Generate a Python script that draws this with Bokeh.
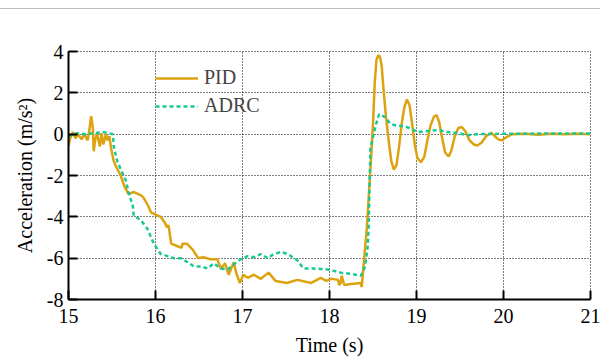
from bokeh.plotting import figure
from bokeh.models import Legend, LegendItem, FixedTicker, Range1d
from bokeh.embed import file_html
from bokeh.resources import INLINE

# ---- data ----
pid_t = [15.00, 15.02, 15.05, 15.08, 15.11, 15.15, 15.18, 15.22, 15.24, 15.26, 15.28, 15.29,
         15.31, 15.33, 15.36, 15.38, 15.40, 15.43, 15.45, 15.47, 15.49, 15.52, 15.55, 15.60,
         15.64, 15.69, 15.75, 15.83, 15.86, 15.92, 15.95, 16.06, 16.11, 16.13, 16.15, 16.18,
         16.24, 16.30, 16.31, 16.36, 16.43, 16.49, 16.55, 16.63, 16.71, 16.75, 16.80, 16.84,
         16.90, 16.93, 16.97, 17.01, 17.06, 17.13, 17.21, 17.30, 17.38, 17.51, 17.63, 17.79,
         17.90, 17.96, 18.02, 18.10, 18.11, 18.13, 18.14, 18.17, 18.25, 18.36, 18.37, 18.43,
         18.48, 18.50, 18.52, 18.54, 18.56, 18.58, 18.60, 18.62, 18.65, 18.68, 18.71, 18.74,
         18.77, 18.80, 18.83, 18.86, 18.89, 18.92, 18.95, 18.98, 19.01, 19.05, 19.09, 19.12,
         19.16, 19.20, 19.23, 19.26, 19.30, 19.33, 19.37, 19.40, 19.44, 19.48, 19.52, 19.56,
         19.61, 19.66, 19.70, 19.75, 19.80, 19.86, 19.90, 19.94, 19.98, 20.03, 20.10, 20.25,
         20.40, 20.55, 20.70, 20.85, 21.00]
pid_a = [-0.55, -0.2, 0.1, -0.2, 0.0, -0.25, 0.0, -0.3, 0.2, 0.87, 0.3, -0.83,
         -0.2, 0.0, -0.6, 0.05, -0.5, 0.0, -0.3, -0.1, -0.7, -1.3, -1.6, -2.0,
         -2.5, -2.9, -2.8, -2.95, -3.06, -3.5, -3.8, -4.0, -4.3, -4.5, -4.4, -5.3,
         -5.4, -5.5, -5.3, -5.3, -5.6, -6.0, -5.95, -6.05, -6.05, -6.5, -6.25, -6.8,
         -6.2, -6.75, -7.2, -6.8, -6.95, -6.8, -7.0, -6.7, -7.1, -7.2, -7.05, -7.2,
         -6.95, -7.1, -7.0, -7.05, -7.3, -7.2, -6.85, -7.3, -7.25, -7.2, -7.4, -4.5,
         -1.0, 0.5, 2.5, 3.6, 3.82, 3.75, 3.3, 2.2, 0.8, -0.3, -1.3, -1.72,
         -1.5, -0.6, 0.5, 1.3, 1.68, 1.4, 0.5, -0.5, -1.15, -1.36, -1.1, -0.4,
         0.4, 0.85, 0.92, 0.6, -0.3, -0.9, -1.08, -0.8, -0.1, 0.3, 0.35, 0.15,
         -0.3, -0.5, -0.55, -0.4, -0.1, 0.07, -0.1, -0.25, -0.3, -0.15, 0.0, 0.02,
         -0.03, 0.02, 0.0, 0.02, 0.0]

adrc_t = [15.00, 15.10, 15.20, 15.30, 15.40, 15.51, 15.52, 15.56, 15.60, 15.66, 15.69, 15.74,
          15.75, 15.83, 15.91, 15.98, 16.06, 16.14, 16.21, 16.29, 16.37, 16.44, 16.52, 16.60,
          16.67, 16.75, 16.83, 16.90, 16.98, 17.06, 17.13, 17.21, 17.29, 17.36, 17.44, 17.52,
          17.59, 17.63, 17.70, 17.82, 17.98, 18.13, 18.24, 18.36, 18.41, 18.44, 18.45, 18.46,
          18.47, 18.53, 18.57, 18.64, 18.70, 18.78, 18.86, 18.94, 19.02, 19.13, 19.25, 19.36,
          19.48, 19.59, 19.70, 20.00, 20.50, 21.00]
adrc_a = [-0.1, 0.05, 0.0, 0.05, 0.1, 0.0, -0.6, -1.3, -1.7, -2.25, -2.8, -3.5,
          -3.95, -4.15, -4.6, -5.3, -5.8, -5.9, -6.0, -6.0, -6.2, -6.4, -6.4, -6.5,
          -6.25, -6.5, -6.55, -6.3, -6.05, -5.9, -5.95, -5.8, -6.0, -5.8, -5.7, -5.8,
          -6.0, -6.1, -6.5, -6.5, -6.55, -6.7, -6.75, -6.85, -6.4, -5.4, -4.5, -2.5,
          -0.7, 0.4, 0.97, 0.82, 0.5, 0.4, 0.4, 0.25, 0.1, 0.15, 0.2, 0.1,
          0.05, -0.05, 0.0, 0.02, 0.03, 0.03]

x_ticks = [15, 16, 17, 18, 19, 20, 21]
x_tick_labels = ["15", "16", "17", "18", "19", "20", "21"]
y_ticks = [-8, -6, -4, -2, 0, 2, 4]
y_tick_labels = ["-8", "-6", "-4", "-2", "0", "2", "4"]

FONT = "Liberation Serif"
PID_COLOR = "#DCA30E"
ADRC_COLOR = "#18C994"

p = figure(width=600, height=349, output_backend="svg", toolbar_location=None,
           x_range=Range1d(15, 21), y_range=Range1d(-8, 4),
           min_border_left=68, min_border_right=10, min_border_top=42, min_border_bottom=54)
p.styles = {"margin-top": "8px", "border-top": "1px solid #bcbcbc"}

p.background_fill_color = "white"
p.border_fill_color = "white"
p.outline_line_color = "black"
p.outline_line_dash = "1 2"
p.outline_line_width = 1

for ax in (p.xaxis[0], p.yaxis[0]):
    ax.axis_line_width = 2
    ax.axis_line_color = "black"
    ax.major_tick_in = 9
    ax.major_tick_out = 0
    ax.major_tick_line_width = 2
    ax.minor_tick_line_color = None
    ax.major_label_text_font = FONT
    ax.major_label_text_font_size = "20px"
    ax.major_label_text_color = "black"
    ax.axis_label_text_font = FONT
    ax.axis_label_text_font_size = "20px"
    ax.axis_label_text_font_style = "normal"
    ax.axis_label_text_color = "black"

p.xaxis.ticker = FixedTicker(ticks=x_ticks)
p.yaxis.ticker = FixedTicker(ticks=y_ticks)
p.xaxis.major_label_overrides = dict(zip(x_ticks, x_tick_labels))
p.yaxis.major_label_overrides = dict(zip(y_ticks, y_tick_labels))
p.xaxis.major_label_standoff = 9
p.yaxis.major_label_standoff = 5
p.xaxis.axis_label = "Time (s)"
p.xaxis.axis_label_standoff = 8
p.yaxis.axis_label = "Acceleration (m/s²)"
p.yaxis.axis_label_standoff = 8

for g in (p.xgrid[0], p.ygrid[0]):
    g.grid_line_color = "black"
    g.grid_line_dash = "1 2"
    g.grid_line_width = 1
p.xgrid.ticker = FixedTicker(ticks=x_ticks)
p.ygrid.ticker = FixedTicker(ticks=y_ticks)

r_pid = p.line(pid_t, pid_a, line_color=PID_COLOR, line_width=2.5)
r_adrc = p.line(adrc_t, adrc_a, line_color=ADRC_COLOR, line_width=2.5, line_dash="4 3")

legend = Legend(items=[LegendItem(label="PID", renderers=[r_pid]),
                       LegendItem(label="ADRC", renderers=[r_adrc])],
                location=(87, 182), padding=0, margin=0, spacing=5,
                glyph_width=43, glyph_height=20, label_height=20, label_standoff=6,
                label_text_font=FONT, label_text_font_size="20px",
                border_line_color=None, background_fill_alpha=0)
p.add_layout(legend)

open("out.html", "w").write(file_html(p, INLINE))
